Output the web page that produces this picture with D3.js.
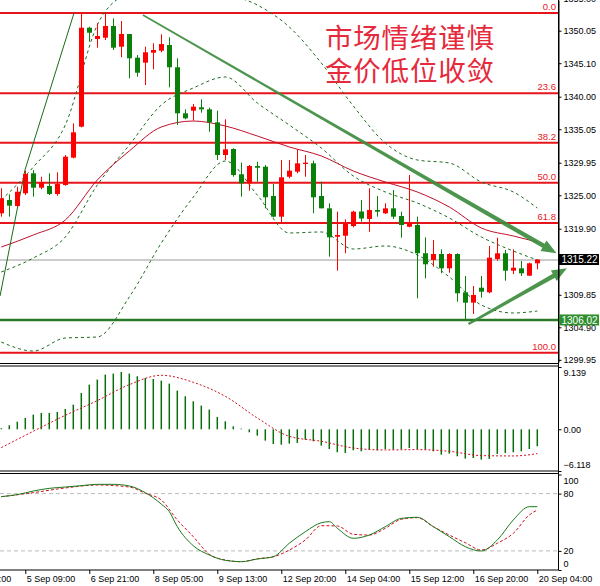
<!DOCTYPE html>
<html>
<head>
<meta charset="utf-8">
<script src="https://cdn.jsdelivr.net/npm/d3@7"></script>
<style>
body { margin: 0; background: #fff; }
text { font-family: "Liberation Sans", Arial, sans-serif; }
</style>
</head>
<body>
<svg id="chart" width="600" height="586"></svg>
<script>
// candles, H4 bars 0..67
var opens = [1322.25,1324.28,1323.36,1325.30,1328.34,1326.15,1326.41,1325.19,1326.56,1330.72,
    1335.44,1350.50,1348.78,1348.98,1350.76,1347.61,1349.54,1345.94,1345.18,1346.70,
    1347.00,1347.87,1344.48,1337.47,1337.87,1338.39,1338.08,1336.10,1331.13,1332.04,
    1328.19,1326.82,1329.45,1329.35,1324.89,1321.74,1327.82,1328.59,1329.76,1329.86,
    1324.89,1323.01,1318.69,1318.84,1320.32,1322.53,1321.39,1322.76,1322.25,1323.01,
    1321.84,1320.21,1320.47,1316.17,1315.15,1316.06,1313.88,1316.06,1310.23,1308.65,
    1310.93,1310.23,1315.30,1316.17,1313.52,1313.88,1312.76,1314.64];
var closes = [1324.54,1323.41,1325.54,1328.24,1326.15,1326.97,1325.19,1326.71,1330.87,1334.58,
    1350.50,1349.74,1349.24,1350.76,1347.46,1349.54,1345.85,1343.65,1346.76,1347.11,
    1348.02,1344.48,1337.47,1336.71,1338.48,1338.08,1336.10,1331.13,1331.99,1328.08,
    1326.82,1329.45,1329.19,1324.69,1321.74,1327.73,1328.74,1329.86,1329.96,1324.69,
    1323.01,1318.60,1318.95,1320.63,1322.50,1321.46,1322.76,1322.50,1323.01,1321.74,
    1320.47,1320.82,1316.17,1314.49,1316.06,1313.88,1316.06,1310.08,1308.65,1309.82,
    1310.32,1315.50,1316.17,1313.52,1313.97,1313.12,1314.64,1315.22];
var highs = [1326.06,1325.15,1326.30,1328.74,1328.84,1327.82,1328.34,1328.49,1331.13,1335.95,
    1352.60,1350.66,1351.17,1352.72,1351.93,1351.52,1349.54,1346.35,1347.61,1348.13,
    1349.50,1349.04,1345.85,1338.08,1338.89,1339.61,1338.33,1337.87,1336.56,1332.15,
    1329.96,1329.61,1330.11,1329.61,1326.71,1330.37,1330.37,1331.99,1331.13,1330.26,
    1327.06,1323.78,1322.50,1321.34,1322.65,1324.28,1326.06,1324.89,1323.78,1325.80,
    1322.50,1328.08,1321.74,1318.60,1318.19,1316.77,1316.17,1316.17,1312.71,1311.19,
    1312.71,1317.28,1318.54,1316.67,1316.77,1314.99,1314.73,1315.22];
var lows = [1321.74,1321.74,1323.26,1325.04,1324.78,1325.91,1325.04,1324.93,1326.45,1330.62,
    1335.34,1348.37,1347.46,1348.63,1347.11,1346.00,1342.80,1343.05,1341.78,1344.17,
    1346.76,1341.43,1335.69,1336.56,1336.35,1337.57,1334.67,1330.37,1330.37,1327.82,
    1324.78,1325.69,1327.06,1323.01,1321.64,1320.73,1327.58,1328.34,1327.82,1322.25,
    1323.01,1315.65,1313.52,1316.17,1320.12,1320.98,1319.45,1321.74,1322.15,1321.39,
    1318.54,1320.12,1309.32,1312.36,1314.13,1313.12,1313.21,1308.80,1306.01,1306.93,
    1309.41,1310.08,1315.04,1311.99,1313.01,1312.71,1312.71,1313.73];

// bollinger bands + moving average, read every 4 bars
var bandIdx = [0,4,8,12,16,20,24,28,32,36,40,44,48,52,56,60,64,67];
var bandUpper = [1324.28,1329.30,1335.69,1350.91,1356.24,1359.29,1357.92,1355.79,1353.96,
    1350.61,1345.13,1338.59,1332.95,1330.37,1329.91,1327.02,1325.50,1323.06];
var bandMid = [1313.32,1315.45,1318.65,1326.56,1332.65,1338.74,1341.33,1343.00,1339.04,
    1335.69,1332.19,1327.93,1325.50,1323.82,1321.54,1318.65,1316.52,1315.15];
var bandLower = [1302.66,1301.29,1303.27,1303.43,1309.51,1317.73,1324.73,1330.21,1325.04,
    1319.26,1319.41,1316.82,1317.28,1315.91,1312.56,1308.30,1307.08,1307.38];
var maLine = [1317.12,1318.95,1321.23,1327.32,1331.74,1335.39,1336.30,1335.54,1334.02,
    1332.35,1330.98,1328.69,1327.02,1325.50,1323.21,1320.02,1318.80,1317.89];

// fibonacci retracement
var fibLabels = ['0.0','23.6','38.2','50.0','61.8','100.0'];
var fibPrices = [1352.74,1340.54,1332.99,1326.89,1320.79,1301.04];
var supportPrice = 1306.02;
var lastPrice = 1315.22;

var priceTicks = [1299.95,1304.90,1309.85,1319.90,1325.00,1329.95,1335.05,1340.00,1345.10,1350.05,1355.00];

// MACD
var macdHist = [0.15,0.59,1.12,1.66,2.15,2.40,2.40,2.54,2.98,3.62,
    5.33,6.55,7.29,8.02,8.17,8.41,8.17,7.78,7.53,7.38,
    7.14,6.70,5.67,4.84,4.11,3.47,2.89,1.81,1.17,0.44,
    0.10,-0.44,-0.93,-1.66,-2.15,-2.25,-2.10,-2.00,-1.52,-1.76,
    -2.40,-2.89,-3.37,-3.47,-3.08,-3.23,-2.98,-3.08,-2.89,-2.98,
    -2.89,-2.74,-2.89,-2.98,-3.23,-3.72,-3.57,-3.96,-4.30,-4.21,
    -4.45,-4.35,-3.62,-3.47,-3.37,-3.23,-2.89,-2.49];
var macdSigIdx = [0,4,8,12,16,20,24,28,32,36,40,44,48,52,56,60,64,67];
var macdSig = [-2.69,-0.29,2.05,4.21,6.55,7.92,6.89,4.84,1.66,-1.03,-1.76,-2.74,-3.03,-2.98,-3.23,-3.86,-3.91,-3.57];

// stochastic
var stochMainIdx = [0,2,4,6,8,10,12,14,16,18,20,21,22,24,26,28,30,32,34,36,38,40,41,42,44,46,48,50,52,54,56,58,60,62,64,66,67];
var stochMain = [76.8,78.9,82.7,85.5,86.9,88.3,89.7,89.7,88.0,81.0,69.0,61.1,45.4,25.4,15.7,10.1,8.7,11.5,13.9,28.0,
    40.1,49.5,50.6,43.7,33.2,36.6,45.4,54.1,55.2,45.4,34.9,24.4,19.9,31.4,52.4,66.3,66.3];
var stochSigIdx = [0,4,8,12,16,18,20,22,24,26,28,30,32,34,36,38,40,42,44,46,48,50,52,54,56,58,60,62,64,66,67];
var stochSig = [76.8,81.0,85.9,89.0,86.9,80.3,73.3,52.4,34.9,16.4,10.5,8.7,11.8,13.9,20.9,31.4,46.4,46.1,37.4,36.6,
    43.7,53.1,54.8,45.4,36.6,28.6,20.9,28.0,38.4,57.6,62.8];

var timeIdx = [-5,3,11,19,27,35,43,51,59,67];
var timeLabels = ['4 Sep 01:00','5 Sep 09:00','6 Sep 21:00','8 Sep 05:00','9 Sep 13:00',
    '12 Sep 20:00','14 Sep 04:00','15 Sep 12:00','16 Sep 20:00','20 Sep 04:00'];

// drawings in [bar, price]
var steepLine = [[-0.16,1309.67],[2.96,1328.85],[9.09,1352.74]];
var downArrow = [[17.7,1352.44],[69.4,1316.17]];
var upArrow = [[58.4,1305.40],[70.7,1313.88]];

var titleLines = ['市场情绪谨慎','金价低位收敛'];

var RED = '#ff0000', GREEN = '#0a800a', FIB = '#e8141c';
var axisX = 558.5;
var AXIS_FONT = '"Liberation Sans", Arial, sans-serif';

var svg = d3.select('#chart');
var x = d3.scaleLinear().domain([0, 67]).range([1.3, 537.3]);
var y = d3.scaleLinear().domain([1299.62, 1354.72]).range([362, 0]);
var yM = d3.scaleLinear().domain([-6.118, 9.139]).range([471, 367]);
var yS = d3.scaleLinear().domain([0, 100]).range([570, 474.5]);

svg.append('defs').append('clipPath').attr('id', 'mainClip')
    .append('rect').attr('x', 0).attr('y', 0).attr('width', axisX).attr('height', 363);

var main = svg.append('g').attr('clip-path', 'url(#mainClip)');

// fib levels
fibPrices.forEach(function (p, i) {
    main.append('line')
        .attr('x1', 0).attr('x2', axisX)
        .attr('y1', y(p)).attr('y2', y(p))
        .style('stroke', FIB).style('stroke-width', 2);
    main.append('text')
        .attr('x', 556).attr('y', y(p) - 3)
        .style('text-anchor', 'end').style('font-size', '9.5px').style('fill', FIB)
        .text(fibLabels[i]);
});

main.append('line')
    .attr('x1', 0).attr('x2', axisX)
    .attr('y1', y(lastPrice) + 0.5).attr('y2', y(lastPrice) + 0.5)
    .style('stroke', '#999').style('stroke-width', 1);

main.append('line')
    .attr('x1', 0).attr('x2', axisX)
    .attr('y1', y(supportPrice)).attr('y2', y(supportPrice))
    .style('stroke', '#2a7a2a').style('stroke-width', 2.5);

// bands
function bandPath(vals) {
    return d3.line()
        .x(function (d, i) { return x(bandIdx[i]); })
        .y(function (d) { return y(d); })
        .curve(d3.curveMonotoneX)(vals);
}
[bandUpper, bandMid, bandLower].forEach(function (b) {
    main.append('path').attr('d', bandPath(b))
        .style('fill', 'none').style('stroke', '#1f6b1f')
        .style('stroke-width', 1).style('stroke-dasharray', '3,3');
});
main.append('path').attr('d', bandPath(maLine))
    .style('fill', 'none').style('stroke', '#c0102a').style('stroke-width', 1);

main.append('path')
    .attr('d', d3.line().x(function (d) { return x(d[0]); }).y(function (d) { return y(d[1]); })(steepLine))
    .style('fill', 'none').style('stroke', '#1a6a1a').style('stroke-width', 1);

// candles
var candles = main.selectAll('.candle')
    .data(opens)
    .enter()
    .append('g')
    .attr('class', 'candle')
    .attr('transform', function (d, i) { return 'translate(' + [Math.round(x(i)) + 0.5, 0] + ')'; });

candles.append('line')
    .attr('y1', function (d, i) { return y(highs[i]); })
    .attr('y2', function (d, i) { return y(lows[i]); })
    .style('stroke', function (d, i) { return closes[i] >= d ? RED : GREEN; })
    .style('stroke-width', 1);

candles.append('rect')
    .attr('x', -2.5).attr('width', 5)
    .attr('y', function (d, i) { return y(Math.max(d, closes[i])); })
    .attr('height', function (d, i) { return Math.max(1, Math.abs(y(d) - y(closes[i]))); })
    .style('fill', function (d, i) { return closes[i] >= d ? RED : GREEN; });

// title
svg.selectAll('.title')
    .data(titleLines)
    .enter()
    .append('text')
    .attr('class', 'title')
    .attr('x', 325)
    .attr('y', function (d, i) { return 47.5 + i * 33.5; })
    .style('font-family', '"Noto Sans CJK SC", sans-serif')
    .style('font-size', '27.5px')
    .style('letter-spacing', '0.8px')
    .style('fill', '#e52a3c')
    .text(function (d) { return d; });

// tapered arrows
function arrowShape(a, w0, w1, hl, hw) {
    var x0 = x(a[0][0]), y0 = y(a[0][1]), x1 = x(a[1][0]), y1 = y(a[1][1]);
    var len = Math.hypot(x1 - x0, y1 - y0), ux = (x1 - x0) / len, uy = (y1 - y0) / len;
    var nx = -uy, ny = ux, bx = x1 - ux * hl, by = y1 - uy * hl;
    var pts = [
        [x0 + nx * w0 / 2, y0 + ny * w0 / 2], [bx + nx * w1 / 2, by + ny * w1 / 2],
        [bx + nx * hw / 2, by + ny * hw / 2], [x1, y1],
        [bx - nx * hw / 2, by - ny * hw / 2], [bx - nx * w1 / 2, by - ny * w1 / 2],
        [x0 - nx * w0 / 2, y0 - ny * w0 / 2]];
    return 'M' + pts.join('L') + 'Z';
}
svg.append('path').attr('d', arrowShape(downArrow, 1.5, 4.5, 15, 12))
    .style('fill', '#3d8c3d').style('opacity', 0.92);
svg.append('path').attr('d', arrowShape(upArrow, 2.5, 4.5, 15, 12))
    .style('fill', '#3d8c3d').style('opacity', 0.92);

// price axis
var priceAxis = svg.append('g')
    .attr('transform', 'translate(' + axisX + ',0)')
    .call(d3.axisRight(y).tickValues(priceTicks).tickFormat(d3.format('.2f')).tickSize(3).tickSizeOuter(0).tickPadding(2));
priceAxis.selectAll('text').style('font-size', '9px').style('font-family', AXIS_FONT);

[[lastPrice, '#000'], [supportPrice, '#2f8f2f']].forEach(function (b) {
    svg.append('rect')
        .attr('x', 559).attr('y', y(b[0]) - 5.5).attr('width', 40).attr('height', 11)
        .style('fill', b[1]);
    svg.append('text')
        .attr('x', 561.5).attr('y', y(b[0]) + 3.6)
        .style('font-size', '10px').style('fill', '#fff')
        .text(d3.format('.2f')(b[0]));
});

// MACD panel
svg.selectAll('.macd')
    .data(macdHist)
    .enter()
    .append('line')
    .attr('class', 'macd')
    .attr('x1', function (d, i) { return x(i); })
    .attr('x2', function (d, i) { return x(i); })
    .attr('y1', yM(0))
    .attr('y2', function (d) { return yM(d); })
    .style('stroke', '#0a6e0a').style('stroke-width', 1.5);

svg.append('path')
    .attr('d', d3.line()
        .x(function (d, i) { return x(macdSigIdx[i]); })
        .y(function (d) { return yM(d); })
        .curve(d3.curveMonotoneX)(macdSig))
    .style('fill', 'none').style('stroke', '#d01020').style('stroke-width', 1)
    .style('stroke-dasharray', '2,2');

var macdAxis = svg.append('g')
    .attr('transform', 'translate(' + axisX + ',0)')
    .call(d3.axisRight(yM).tickValues([9.139, 0, -6.118]).tickFormat(function (d) { return d === 0 ? '0.00' : d3.format('.3f')(d); })
        .tickSize(3).tickSizeOuter(0).tickPadding(2));
macdAxis.selectAll('text').style('font-size', '9px').style('font-family', AXIS_FONT)
    .attr('dy', function (d) { return d > 0 ? '0.95em' : d < 0 ? '-0.35em' : '0.32em'; });
macdAxis.select('.domain').remove();

// stochastic panel
[80, 20].forEach(function (lv) {
    svg.append('line')
        .attr('x1', 0).attr('x2', axisX)
        .attr('y1', yS(lv)).attr('y2', yS(lv))
        .style('stroke', '#bbb').style('stroke-width', 1).style('stroke-dasharray', '4,3');
});
svg.append('path')
    .attr('d', d3.line()
        .x(function (d, i) { return x(stochSigIdx[i]); })
        .y(function (d) { return yS(d); })
        .curve(d3.curveMonotoneX)(stochSig))
    .style('fill', 'none').style('stroke', '#d01020').style('stroke-width', 1)
    .style('stroke-dasharray', '3,2');
svg.append('path')
    .attr('d', d3.line()
        .x(function (d, i) { return x(stochMainIdx[i]); })
        .y(function (d) { return yS(d); })
        .curve(d3.curveMonotoneX)(stochMain))
    .style('fill', 'none').style('stroke', '#1a7a1a').style('stroke-width', 1);

var stochAxis = svg.append('g')
    .attr('transform', 'translate(' + axisX + ',0)')
    .call(d3.axisRight(yS).tickValues([100, 80, 20, 0]).tickSize(3).tickSizeOuter(0).tickPadding(2));
stochAxis.selectAll('text').style('font-size', '9px').style('font-family', AXIS_FONT)
    .attr('dy', function (d) { return d === 100 ? '0.95em' : d === 0 ? '-0.35em' : '0.32em'; });
stochAxis.select('.domain').remove();

// panel borders
[363.5, 366, 471, 473.5, 570].forEach(function (yy) {
    svg.append('line')
        .attr('x1', 0).attr('x2', axisX)
        .attr('y1', yy).attr('y2', yy)
        .style('stroke', '#000').style('stroke-width', 1.2);
});
svg.append('line')
    .attr('x1', axisX).attr('x2', axisX).attr('y1', 0).attr('y2', 570)
    .style('stroke', '#000').style('stroke-width', 1);

// time axis
var timeAxis = svg.append('g')
    .attr('transform', 'translate(0,570)')
    .call(d3.axisBottom(x).tickValues(timeIdx)
        .tickFormat(function (d, i) { return timeLabels[i]; })
        .tickSize(4).tickSizeOuter(0).tickPadding(2));
timeAxis.select('.domain').remove();
timeAxis.selectAll('text')
    .style('font-size', '9px').style('font-family', AXIS_FONT)
    .style('text-anchor', 'start').attr('dx', 1);
</script>
</body>
</html>
